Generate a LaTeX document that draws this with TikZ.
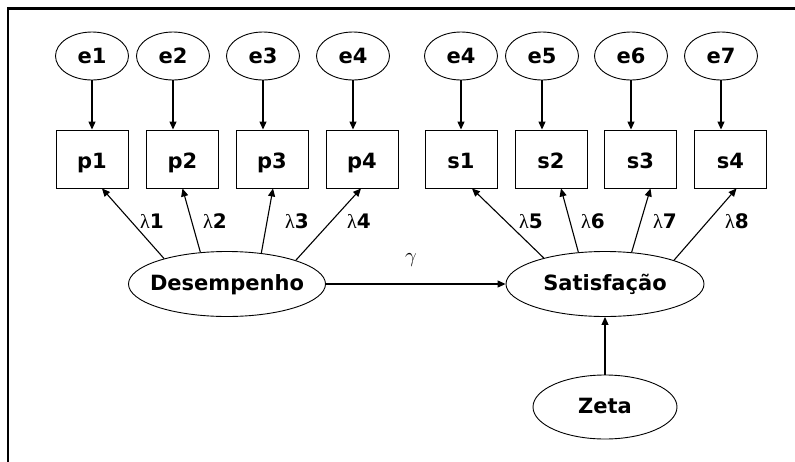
\documentclass[tikz,border=0pt]{standalone}
\usepackage{fontspec}
\setmainfont{DejaVu Sans}
\newfontfamily\grk{Liberation Serif}
\usetikzlibrary{arrows.meta,shapes.geometric}
% zero-width text box so the ellipse size comes only from its minimum size
\newcommand\ctext[1]{\makebox[0pt]{#1}}
% upright Greek letter in a light serif face
\newcommand\gl[1]{{\grk\mdseries #1}}
\begin{document}
\begin{tikzpicture}[x=1pt,y=-1pt,
  font=\fontsize{21}{25}\selectfont\bfseries,
  err/.style={draw, ellipse, line width=0.9pt, minimum width=73pt, minimum height=48pt,
              inner sep=0pt, text height=14pt, text depth=0pt},
  ind/.style={draw, rectangle, line width=0.9pt, minimum width=72pt, minimum height=58pt,
              inner sep=0pt, text height=19pt, text depth=0pt},
  lat/.style={draw, ellipse, line width=0.9pt, minimum height=65pt,
              inner sep=0pt, text height=13pt, text depth=0pt},
  link/.style={-{Triangle[length=8pt,width=7pt]}, line width=1.1pt},
  coef/.style={font=\fontsize{20}{22}\selectfont\bfseries, inner sep=0pt}]
\useasboundingbox (0,0) rectangle (795,461);

% frame (top and left edges)
\draw[line width=2.7pt] (8,462) -- (8,8.6) -- (796,8.6);

% error terms
\node[err] (e1)  at (92,56)  {\ctext{e1}};
\node[err] (e2)  at (173,56) {\ctext{e2}};
\node[err] (e3)  at (263,56) {\ctext{e3}};
\node[err] (e4)  at (353,56) {\ctext{e4}};
\node[err] (e4b) at (461,56) {\ctext{e4}};
\node[err] (e5)  at (542,56) {\ctext{e5}};
\node[err] (e6)  at (631,56) {\ctext{e6}};
\node[err] (e7)  at (721,56) {\ctext{e7}};

% indicators
\node[ind] (p1) at (92,159)    {p1};
\node[ind] (p2) at (182.5,159) {p2};
\node[ind] (p3) at (272,159)   {p3};
\node[ind] (p4) at (362,159)   {p4};
\node[ind] (s1) at (461,159)   {s1};
\node[ind] (s2) at (551,159)   {s2};
\node[ind] (s3) at (640.5,159) {s3};
\node[ind] (s4) at (730.5,159) {s4};

% latent variables
\node[lat, minimum width=197pt] (D) at (227,284) {\ctext{Desempenho}};
\node[lat, minimum width=198pt] (S) at (605,284) {\ctext{Satisfação}};
\node[lat, minimum width=144pt, minimum height=64pt] (Z) at (605,407) {\ctext{Zeta}};

% errors to indicators
\foreach \e/\b in {e1/p1,e2/p2,e3/p3,e4/p4,e4b/s1,e5/s2,e6/s3,e7/s4}
  \draw[link] (\e.south) -- (\e.south |- \b.north);

% loadings
\draw[link] (D.158) -- ([xshift=10pt]p1.south);
\draw[link] (D.130) -- (p2.south);
\draw[link] (D.42)  -- ([xshift=1pt]p3.south);
\draw[link] (D.19)  -- ([xshift=-1pt]p4.south);
\draw[link] (S.157) -- ([xshift=11pt]s1.south);
\draw[link] (S.130) -- ([xshift=10pt]s2.south);
\draw[link] (S.50)  -- ([xshift=10pt]s3.south);
\draw[link] (S.19)  -- ([xshift=6pt]s4.south);

\node[coef] (l1) at (152,221) {\gl{λ}1};
\node[coef] (l2) at (215,221) {\gl{λ}2};
\node[coef] (l3) at (297,221) {\gl{λ}3};
\node[coef] (l4) at (359,221) {\gl{λ}4};
\node[coef] (l5) at (531,221) {\gl{λ}5};
\node[coef] (l6) at (593,221) {\gl{λ}6};
\node[coef] (l7) at (665,221) {\gl{λ}7};
\node[coef] (l8) at (737,221) {\gl{λ}8};

% structural path and disturbance
\draw[link] (D.east) -- (S.west);
\node[coef] (g) at (411,260) {$\gamma$};
\draw[link] (Z.north) -- (S.south);
\end{tikzpicture}
\end{document}
